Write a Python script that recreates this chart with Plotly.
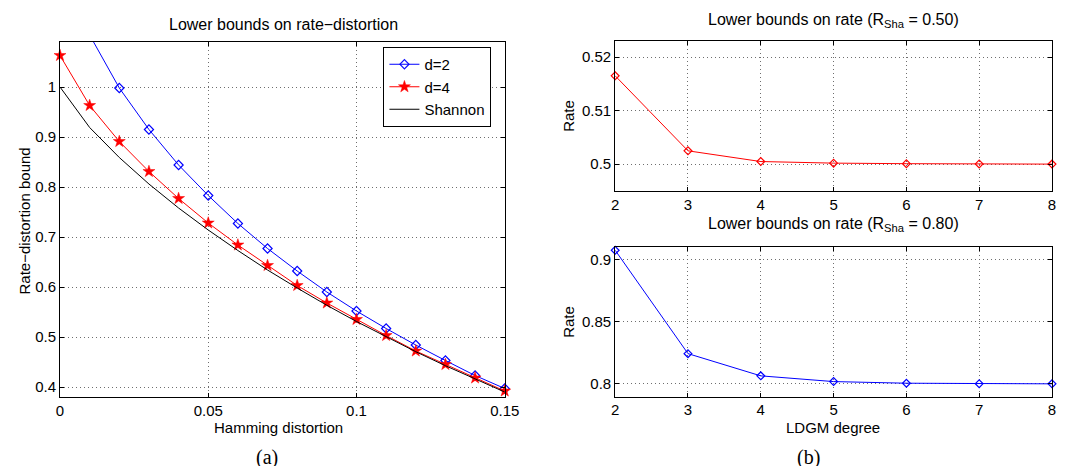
import plotly.graph_objects as go

# ---------------- data ----------------
distortion = [0.00, 0.01, 0.02, 0.03, 0.04, 0.05, 0.06, 0.07, 0.08, 0.09,
              0.10, 0.11, 0.12, 0.13, 0.14, 0.15]
shannon = [1.000, 0.919, 0.859, 0.806, 0.758, 0.714, 0.673, 0.634, 0.598,
           0.5635, 0.531, 0.500, 0.4706, 0.4426, 0.4158, 0.390]
bound_d4 = [1.063, 0.963, 0.891, 0.831, 0.777, 0.728, 0.684, 0.643, 0.603,
            0.568, 0.535, 0.503, 0.472, 0.445, 0.418, 0.392]
distortion_d2 = [0.01, 0.02, 0.03, 0.04, 0.05, 0.06, 0.07, 0.08, 0.09,
                 0.10, 0.11, 0.12, 0.13, 0.14, 0.15]
bound_d2 = [1.104, 0.998, 0.915, 0.844, 0.783, 0.727, 0.677, 0.632, 0.590,
            0.552, 0.517, 0.484, 0.453, 0.423, 0.397]

ldgm_degree = [2, 3, 4, 5, 6, 7, 8]
rate_sha050 = [0.5165, 0.5025, 0.5005, 0.5002, 0.5001, 0.50005, 0.50002]
rate_sha080 = [0.9076, 0.8244, 0.8065, 0.8019, 0.8006, 0.8002, 0.8001]

left_xticks = [0, 0.05, 0.1, 0.15]
left_xlabels = ["0", "0.05", "0.1", "0.15"]
left_yticks = [0.4, 0.5, 0.6, 0.7, 0.8, 0.9, 1.0]
left_ylabels = ["0.4", "0.5", "0.6", "0.7", "0.8", "0.9", "1"]
top_yticks = [0.50, 0.51, 0.52]
top_ylabels = ["0.5", "0.51", "0.52"]
bot_yticks = [0.80, 0.85, 0.90]
bot_ylabels = ["0.8", "0.85", "0.9"]

# ---------------- style ----------------
W, H = 1071, 466
ML, MR, MT, MB = 52, 13, 33, 77
FONT = "Liberation Sans, Arial, Helvetica, sans-serif"
SERIF = "Liberation Serif, Times New Roman, serif"
BLUE = "#0000ff"
RED = "#ff0000"

left_yrange = [0.38, 1.09]

pw = W - ML - MR
ph = H - MT - MB


def px_x(x):
    return (x - ML) / pw


def px_y(y):
    return (H - MB - y) / ph


fig = go.Figure()

fig.add_trace(go.Scatter(
    x=distortion_d2, y=bound_d2, mode="lines+markers", name="d=2",
    line=dict(color=BLUE, width=1),
    marker=dict(symbol="diamond-open", size=7, color=BLUE, line=dict(width=1.2),
                opacity=[1 if v <= left_yrange[1] else 0 for v in bound_d2]),
    cliponaxis=False, xaxis="x", yaxis="y"))
fig.add_trace(go.Scatter(
    x=distortion, y=bound_d4, mode="lines+markers", name="d=4",
    line=dict(color=RED, width=1),
    marker=dict(symbol="star", size=9, color=RED, line=dict(width=0.5, color=RED)),
    cliponaxis=False, xaxis="x", yaxis="y"))
fig.add_trace(go.Scatter(
    x=distortion, y=shannon, mode="lines", name="Shannon",
    line=dict(color="black", width=1), xaxis="x", yaxis="y"))

fig.add_trace(go.Scatter(
    x=ldgm_degree, y=rate_sha050, mode="lines+markers", showlegend=False,
    line=dict(color=RED, width=1),
    marker=dict(symbol="diamond-open", size=6, color=RED, line=dict(width=1.2)),
    cliponaxis=False, xaxis="x2", yaxis="y2"))
fig.add_trace(go.Scatter(
    x=ldgm_degree, y=rate_sha080, mode="lines+markers", showlegend=False,
    line=dict(color=BLUE, width=1),
    marker=dict(symbol="diamond-open", size=6, color=BLUE, line=dict(width=1.2)),
    cliponaxis=False, xaxis="x3", yaxis="y3"))

axis_common = dict(
    showline=True, linecolor="black", linewidth=1, mirror="ticks",
    ticks="inside", ticklen=4, tickcolor="black", tickwidth=1,
    showgrid=True, gridcolor="#6e6e6e", griddash="1px,3px", gridwidth=1,
    zeroline=False, tickfont=dict(family=FONT, size=15, color="black"),
)

xl0, xl1 = px_x(52), px_x(503)
xr0, xr1 = px_x(615), px_x(1058)

fig.update_layout(
    width=W, height=H,
    margin=dict(l=ML, r=MR, t=MT, b=MB, pad=0),
    paper_bgcolor="white", plot_bgcolor="white",
    font=dict(family=FONT, size=15, color="black"),
    showlegend=True,
    legend=dict(x=px_x(380), y=px_y(39), xanchor="left", yanchor="top",
                bordercolor="black", borderwidth=1, bgcolor="white",
                font=dict(family=FONT, size=15, color="black"),
                tracegroupgap=0, itemwidth=30),
    xaxis=dict(domain=[xl0, xl1], range=[0, 0.15], tickvals=left_xticks,
               ticktext=left_xlabels, anchor="y", **axis_common),
    yaxis=dict(domain=[0, px_y(34)], range=left_yrange, tickvals=left_yticks,
               ticktext=left_ylabels, anchor="x", **axis_common),
    xaxis2=dict(domain=[xr0, xr1], range=[2, 8], tickvals=ldgm_degree,
                anchor="y2", **axis_common),
    yaxis2=dict(domain=[px_y(183), px_y(33)], range=[0.495, 0.523],
                tickvals=top_yticks, ticktext=top_ylabels, anchor="x2", **axis_common),
    xaxis3=dict(domain=[xr0, xr1], range=[2, 8], tickvals=ldgm_degree,
                anchor="y3", ticklabelstandoff=-1, **axis_common),
    yaxis3=dict(domain=[0, px_y(239)], range=[0.7895, 0.9102],
                tickvals=bot_yticks, ticktext=bot_ylabels, anchor="x3", **axis_common),
)


def ann(text, x, y, size=15, angle=0, family=FONT):
    fig.add_annotation(text=text, x=px_x(x), y=px_y(y), xref="paper", yref="paper",
                       xanchor="center", yanchor="middle", showarrow=False,
                       textangle=angle, font=dict(family=family, size=size, color="black"))


ann("Lower bounds on rate\u2212distortion", 279, 17, size=16)
ann("Lower bounds on rate (R<sub>Sha</sub> = 0.50)", 836, 12, size=16)
ann("Lower bounds on rate (R<sub>Sha</sub> = 0.80)", 836, 216, size=16)
ann("Rate\u2212distortion bound", 15, 213, angle=-90)
ann("Rate", 567, 108, angle=-90)
ann("Rate", 567, 314, angle=-90)
ann("Hamming distortion", 274, 419)
ann("LDGM degree", 836, 419)
ann("(a)", 262, 449, size=20, family=SERIF)
ann("(b)", 811, 449, size=20, family=SERIF)

fig.write_html("out.html")
